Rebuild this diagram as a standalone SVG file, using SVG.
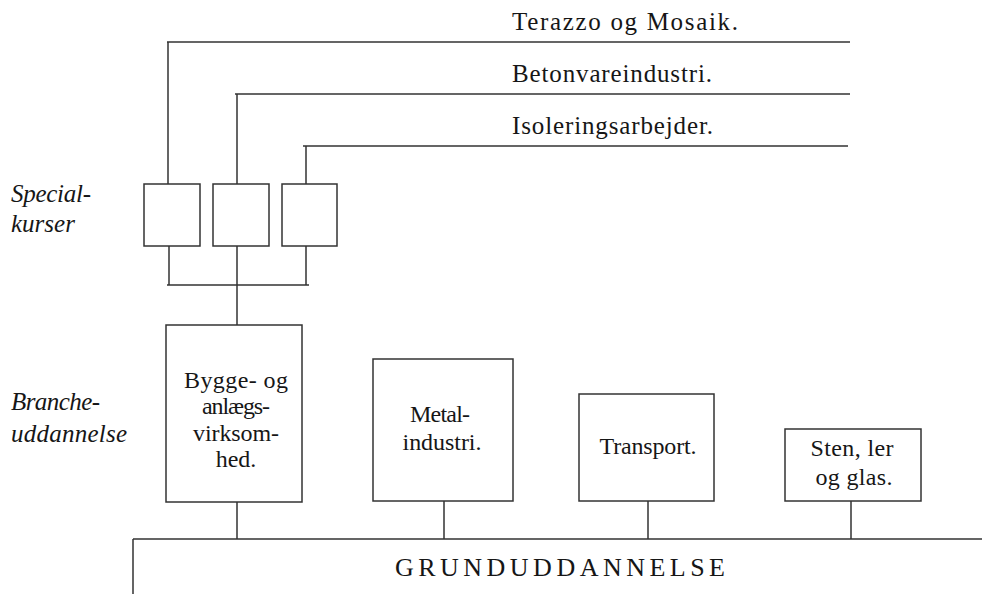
<svg xmlns="http://www.w3.org/2000/svg" width="982" height="594" viewBox="0 0 982 594">
<style>
.ln{stroke:#333333;stroke-width:1.5;fill:none}
.bx{stroke:#333333;stroke-width:1.5;fill:none}
text{font-family:"Liberation Serif","Times New Roman","DejaVu Serif",serif;fill:#161616}
.t{font-size:24px}
.tc{font-size:24px;text-anchor:middle}
.top{font-size:25px}
.it{font-size:25px;font-style:italic}
.big{font-size:26px}
</style>
<rect width="982" height="594" fill="#ffffff"/>
<g id="labels">
<text class="it" x="11" y="202" textLength="80" lengthAdjust="spacing">Special-</text>
<text class="it" x="11" y="232">kurser</text>
<text class="it" x="11" y="410" textLength="89" lengthAdjust="spacing">Branche-</text>
<text class="it" x="11" y="442" textLength="116" lengthAdjust="spacing">uddannelse</text>
</g>
<g id="connectors">
<path class="ln" d="M167,42 H850 M168,42 V184"/>
<path class="ln" d="M235,94 H850 M237,94 V184"/>
<path class="ln" d="M303,146 H848 M306,146 V184"/>
<path class="ln" d="M169,246 V285 M237,246 V285 M306,246 V285 M167,285 H309"/>
<path class="ln" d="M237,285 V325"/>
<path class="ln" d="M237,502 V539 M444,501 V539 M648,501 V539 M851,501 V539"/>
</g>
<g id="terazzo">
<text class="top" x="512" y="30" textLength="226" lengthAdjust="spacing">Terazzo og Mosaik.</text>
</g>
<g id="betonvare">
<text class="top" x="512" y="82" textLength="200" lengthAdjust="spacing">Betonvareindustri.</text>
</g>
<g id="isolering">
<text class="top" x="512" y="134" textLength="201" lengthAdjust="spacing">Isoleringsarbejder.</text>
</g>
<g id="special1"><rect class="bx" x="144" y="184" width="56" height="62"/></g>
<g id="special2"><rect class="bx" x="213" y="184" width="56" height="62"/></g>
<g id="special3"><rect class="bx" x="282" y="184" width="55" height="62"/></g>
<g id="bygge">
<rect class="bx" x="166" y="325" width="136" height="177"/>
<text class="t" x="184" y="388" textLength="104" lengthAdjust="spacing">Bygge- og</text>
<text class="tc" x="236" y="414" textLength="68" lengthAdjust="spacing">anlægs-</text>
<text class="tc" x="236" y="441" textLength="86" lengthAdjust="spacing">virksom-</text>
<text class="tc" x="236" y="467">hed.</text>
</g>
<g id="metal">
<rect class="bx" x="373" y="359" width="140" height="142"/>
<text class="tc" x="440" y="422" textLength="60" lengthAdjust="spacing">Metal-</text>
<text class="tc" x="442" y="450" textLength="79" lengthAdjust="spacing">industri.</text>
</g>
<g id="transport">
<rect class="bx" x="579" y="394" width="135" height="107"/>
<text class="tc" x="648" y="454" textLength="97" lengthAdjust="spacing">Transport.</text>
</g>
<g id="sten">
<rect class="bx" x="785" y="429" width="136" height="72"/>
<text class="tc" x="852" y="456" textLength="83" lengthAdjust="spacing">Sten, ler</text>
<text class="tc" x="854" y="485" textLength="77" lengthAdjust="spacing">og glas.</text>
</g>
<g id="grund">
<path class="ln" d="M133,539 H982 M133,539 V594"/>
<text class="big" x="395" y="576" textLength="330" lengthAdjust="spacing">GRUNDUDDANNELSE</text>
</g>
</svg>
